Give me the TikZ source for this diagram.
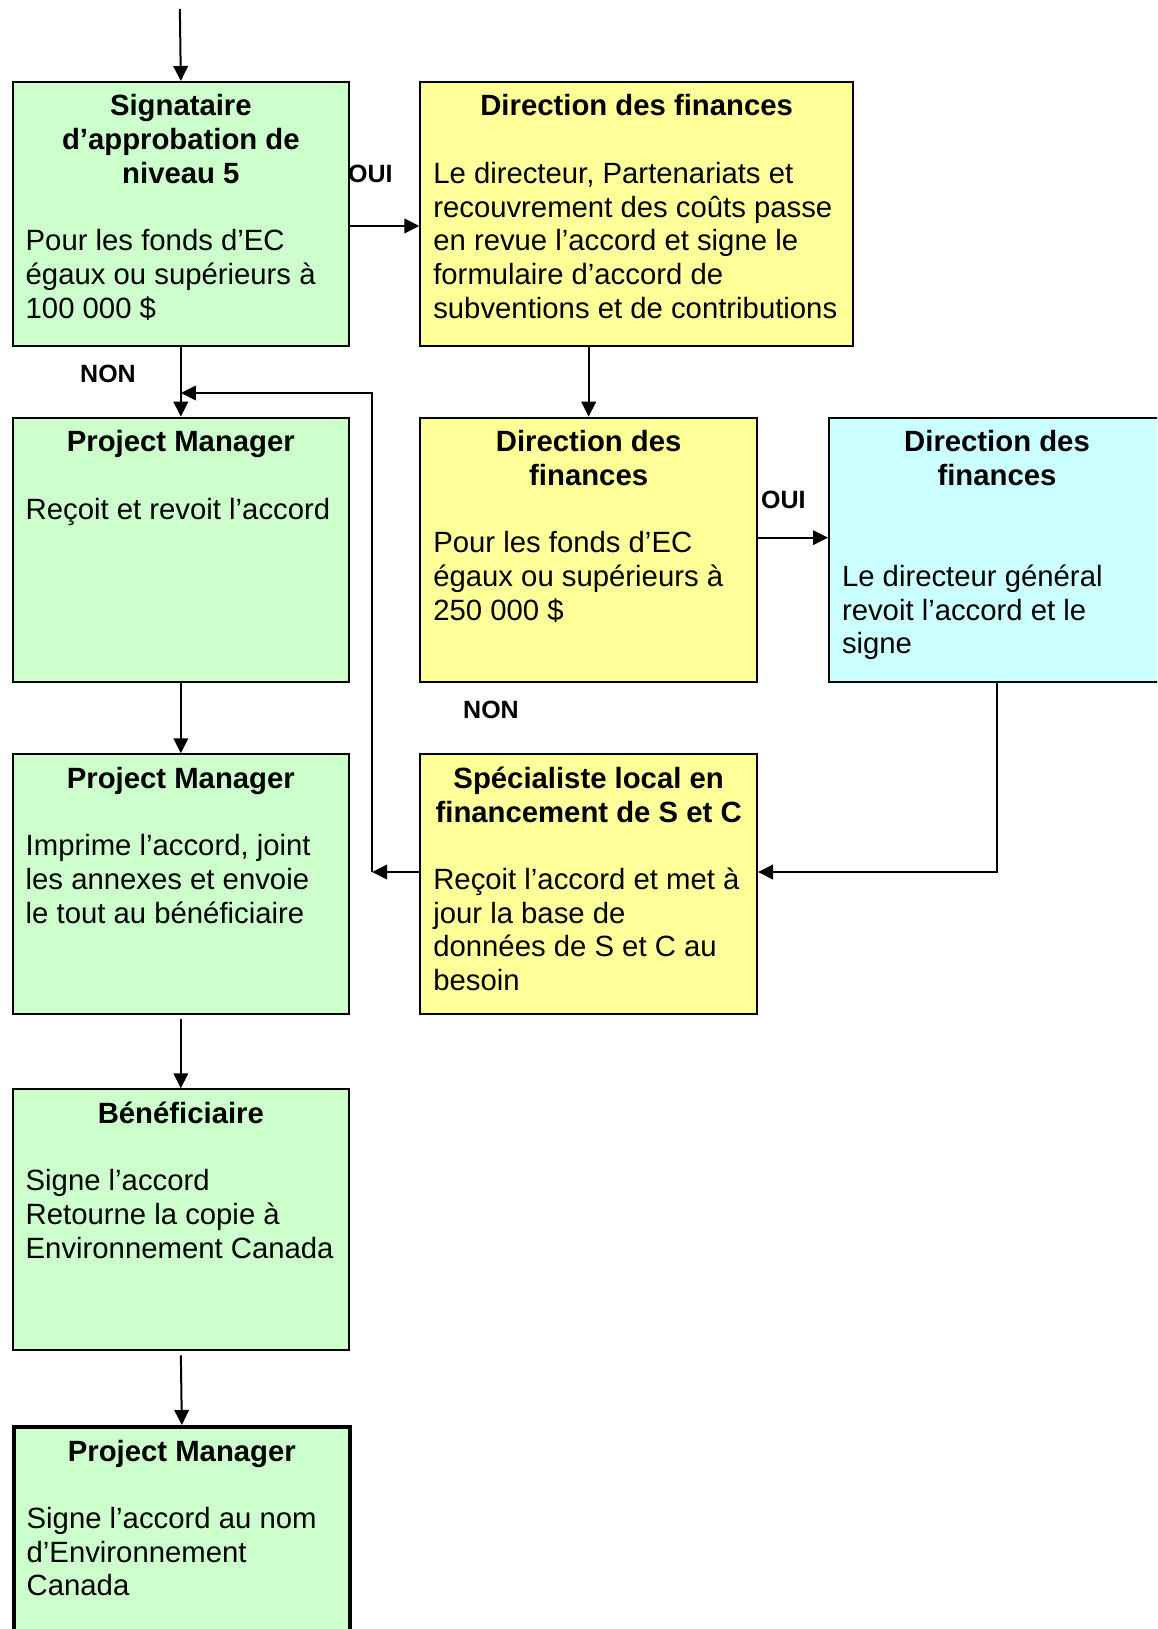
\documentclass[tikz,border=0pt]{standalone}
\usepackage{fontspec}
\setmainfont{Liberation Sans}
\usetikzlibrary{arrows.meta}
\definecolor{ink}{HTML}{000000}
\definecolor{agentfill}{HTML}{CCFFCC}
\definecolor{financefill}{HTML}{FFFF99}
\definecolor{dgfill}{HTML}{CCFFFF}

% box contents: width, height, title, gap, body
\newcommand{\cardtext}[5]{%
  \parbox[c][#2][t]{#1}{%
    \centering\bfseries\rule{0pt}{34pt}#3\par
    \vspace{#4}%
    \raggedright\mdseries #5\par}}

\begin{document}
\begin{tikzpicture}[
  x=1pt, y=-1pt,
  font=\fontsize{29.3pt}{33.7pt}\selectfont,
  text=ink,
  card/.style={draw=ink, line width=2pt, inner xsep=13pt, inner ysep=0pt, anchor=north west},
  agent/.style={card, fill=agentfill},
  finance/.style={card, fill=financefill},
  dg/.style={card, fill=dgfill},
  arrow/.style={-{Triangle[length=15pt,width=14.5pt]}, line width=2pt, draw=ink},
  decision/.style={font=\fontsize{25pt}{28pt}\selectfont\bfseries, inner sep=0pt, anchor=base west}
]
\useasboundingbox (0,0) rectangle (1157,1629);
\fill[white] (0,0) rectangle (1157,1629);
\clip (0,0) rectangle (1157,1629);

% Left column
\node[agent] (sig) at (11.7,81) {\cardtext{310.3pt}{264pt}{Signataire\\ d’approbation de\\ niveau 5}{33.7pt}{Pour les fonds d’EC\\ égaux ou supérieurs à\\ 100 000 \$}};
\node[agent] (pm1) at (11.7,416.7) {\cardtext{310.3pt}{264pt}{Project Manager}{33.7pt}{Reçoit et revoit l’accord}};
\node[agent] (pm2) at (11.7,753.3) {\cardtext{310.3pt}{260pt}{Project Manager}{33.7pt}{Imprime l’accord, joint\\ les annexes et envoie\\ le tout au bénéficiaire}};
\node[agent] (benef) at (11.7,1088.3) {\cardtext{310.3pt}{261pt}{Bénéficiaire}{33.7pt}{Signe l’accord\\ Retourne la copie à\\ Environnement Canada}};
\node[agent, line width=4pt] (pm3) at (11.7,1425) {\cardtext{310.3pt}{264pt}{Project Manager}{33.7pt}{Signe l’accord au nom\\ d’Environnement\\ Canada}};

% Finance branch
\node[finance] (fin1) at (419.3,81) {\cardtext{406.7pt}{264pt}{Direction des finances}{33.7pt}{Le directeur, Partenariats et\\ recouvrement des coûts passe\\ en revue l’accord et signe le\\ formulaire d’accord de\\ subventions et de contributions}};
\node[finance] (fin2) at (419.3,416.7) {\cardtext{310.7pt}{264pt}{Direction des\\ finances}{33.7pt}{Pour les fonds d’EC\\ égaux ou supérieurs à\\ 250 000 \$}};
\node[dg] (dg) at (828,416.7) {\cardtext{310pt}{264pt}{Direction des\\ finances}{67.4pt}{Le directeur général\\ revoit l’accord et le\\ signe}};
\node[finance] (spec) at (419.3,753.3) {\cardtext{310.7pt}{260pt}{Spécialiste local en\\ financement de S et C}{33.7pt}{Reçoit l’accord et met à\\ jour la base de\\ données de S et C au\\ besoin}};

% Decisions
\node[decision] (oui1) at (348,183) {OUI};
\node[decision] (non1) at (80,382) {NON};
\node[decision] (oui2) at (761,508) {OUI};
\node[decision] (non2) at (463,718) {NON};

% Connectors
\coordinate (entry) at (179.85,9);
\coordinate (bend) at (372,872);
\coordinate (rejoin) at (372,393);

\draw[arrow] (entry) -- (sig.north);
\draw[arrow] ([yshift=-12pt]sig.east) -- ([yshift=-12pt]fin1.west);
\draw[arrow] (sig.south) -- (pm1.north);
\draw[arrow] (fin1.south -| fin2.north) -- (fin2.north);
\draw[arrow] ([yshift=12pt]fin2.east) -- ([yshift=12pt]dg.west);
\draw[arrow] (dg.south) |- (bend -| spec.east);
\draw[arrow] (bend -| spec.west) -- (bend);
\draw[arrow] (bend) -- (rejoin) -- (rejoin -| sig.south);
\draw[arrow] (pm1.south) -- (pm2.north);
\draw[arrow] ([yshift=-4pt]pm2.south) -- (benef.north);
\draw[arrow] ([yshift=-4pt]benef.south) -- (pm3.north);

\end{tikzpicture}
\end{document}
